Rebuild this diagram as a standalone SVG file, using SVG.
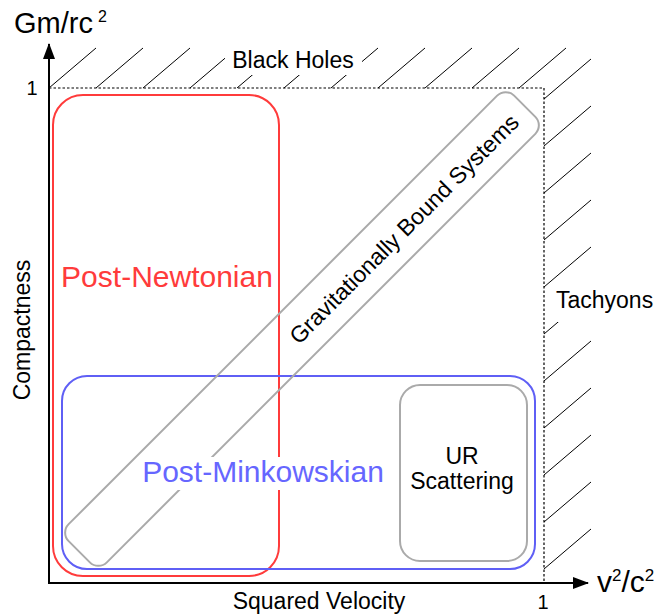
<svg xmlns="http://www.w3.org/2000/svg" width="656" height="615" viewBox="0 0 656 615">
<style>
text{font-family:"Liberation Sans",Arial,sans-serif;fill:#000}
.hatch{stroke:#000;stroke-width:1;fill:none}
.dot{stroke:#000;stroke-width:1.2;stroke-dasharray:2.5,2;fill:none}
.axis{stroke:#000;stroke-width:2;fill:none}
.lbl{font-size:23px}
.bg{fill:#fff;stroke:none}
</style>
<defs>
<marker id="arr" viewBox="0 0 16 12" refX="15" refY="6" markerWidth="16" markerHeight="12" markerUnits="userSpaceOnUse" orient="auto">
<path d="M0,0 L16,6 L0,12 Z" fill="#000"/>
</marker>
</defs>
<rect width="656" height="615" fill="#fff"/>
<g id="hatching">
<path class="hatch" d="M49,88L96,48M96,88L143,48M143,88L190,48M190,88L237,48M237,88L284,48M284,88L331,48M331,88L378,48M378,88L425,48M425,88L472,48M472,88L519,48M519,88L566,48"/>
<path class="hatch" d="M544,99L591,59M544,146L591,106M544,193L591,153M544,240L591,200M544,287L591,247M544,334L591,294M544,381L591,341M544,428L591,388M544,475L591,435M544,522L591,482M544,569L591,529"/>
</g>
<g id="black-holes">
<rect class="bg" x="225" y="44" width="137" height="31"/>
<text class="lbl" x="293" y="68" text-anchor="middle">Black Holes</text>
</g>
<g id="tachyons">
<rect class="bg" x="555" y="284" width="101" height="38"/>
<text class="lbl" x="556" y="308">Tachyons</text>
</g>
<g id="limits">
<path class="dot" d="M49,88H544V583"/>
</g>
<g id="post-newtonian">
<rect x="53" y="95" width="226" height="481" rx="30" fill="none" stroke="#ff3b3b" stroke-width="2"/>
<text x="167" y="287" text-anchor="middle" font-size="30" style="fill:#ff3b3b">Post-Newtonian</text>
</g>
<g id="post-minkowskian">
<rect x="62" y="376" width="473" height="193" rx="25" fill="none" stroke="#5f5ff5" stroke-width="2"/>
</g>
<g id="gravitationally-bound">
<rect transform="translate(302,329) rotate(-45)" x="-315" y="-27" width="630" height="54" rx="12" fill="none" stroke="#aaa" stroke-width="2"/>
<text class="lbl" transform="translate(404,229) rotate(-45)" x="0" y="8" text-anchor="middle">Gravitationally Bound Systems</text>
</g>
<g id="pm-label">
<rect class="bg" x="137" y="457" width="252" height="33"/>
<text x="263" y="482" text-anchor="middle" font-size="30" style="fill:#6666ff">Post-Minkowskian</text>
</g>
<g id="ur-scattering">
<rect x="400" y="385" width="127" height="176" rx="20" fill="none" stroke="#aaa" stroke-width="2"/>
<text class="lbl" x="462" y="464" text-anchor="middle">UR</text>
<text class="lbl" x="462" y="489" text-anchor="middle">Scattering</text>
</g>
<g id="axes">
<path class="axis" d="M49,583V44" marker-end="url(#arr)"/>
<path class="axis" d="M48,583H588" marker-end="url(#arr)"/>
<text font-size="20" x="32" y="95" text-anchor="middle">1</text>
<text font-size="20" x="543" y="609" text-anchor="middle">1</text>
<text x="14" y="33" font-size="29">Gm/rc</text>
<text x="98" y="22" font-size="16">2</text>
<text x="597" y="592" font-size="30">v<tspan font-size="17" dy="-11">2</tspan><tspan dy="11">/c</tspan><tspan font-size="17" dy="-11">2</tspan></text>
<text class="lbl" x="319" y="609" text-anchor="middle">Squared Velocity</text>
<text class="lbl" transform="translate(30,330) rotate(-90)" x="0" y="0" text-anchor="middle">Compactness</text>
</g>
</svg>
